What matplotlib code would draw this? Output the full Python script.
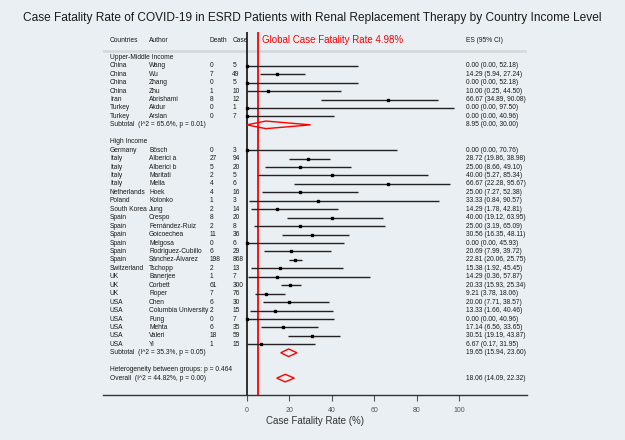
import matplotlib.pyplot as plt
from matplotlib.patches import Polygon

plt.rcParams['font.family'] = ['Liberation Sans', 'DejaVu Sans']

# study level data
um_country = ["China", "China", "China", "China", "Iran", "Turkey", "Turkey"]
um_author = ["Wang", "Wu", "Zhang", "Zhu", "Abrishami", "Akdur", "Arslan"]
um_death = [0, 7, 0, 1, 8, 0, 0]
um_case = [5, 49, 5, 10, 12, 1, 7]
um_es = [0.00, 14.29, 0.00, 10.00, 66.67, 0.00, 0.00]
um_lo = [0.00, 5.94, 0.00, 0.25, 34.89, 0.00, 0.00]
um_hi = [52.18, 27.24, 52.18, 44.50, 90.08, 97.50, 40.96]

hi_country = ["Germany", "Italy", "Italy", "Italy", "Italy", "Netherlands", "Poland",
              "South Korea", "Spain", "Spain", "Spain", "Spain", "Spain", "Spain",
              "Switzerland", "UK", "UK", "UK", "USA", "USA", "USA", "USA", "USA", "USA"]
hi_author = ["Bösch", "Alberici a", "Alberici b", "Maritati", "Mella", "Hoek", "Kolonko",
             "Jung", "Crespo", "Fernández-Ruiz", "Goicoechea", "Melgosa",
             "Rodriguez-Cubillo", "Sánchez-Álvarez", "Tschopp", "Banerjee", "Corbett",
             "Roper", "Chen", "Columbia University", "Fung", "Mehta", "Valeri", "Yi"]
hi_death = [0, 27, 5, 2, 4, 4, 1, 2, 8, 2, 11, 0, 6, 198, 2, 1, 61, 7, 6, 2, 0, 6, 18, 1]
hi_case = [3, 94, 20, 5, 6, 16, 3, 14, 20, 8, 36, 6, 29, 868, 13, 7, 300, 76, 30, 15, 7, 35, 59, 15]
hi_es = [0.00, 28.72, 25.00, 40.00, 66.67, 25.00, 33.33, 14.29, 40.00, 25.00, 30.56, 0.00,
         20.69, 22.81, 15.38, 14.29, 20.33, 9.21, 20.00, 13.33, 0.00, 17.14, 30.51, 6.67]
hi_lo = [0.00, 19.86, 8.66, 5.27, 22.28, 7.27, 0.84, 1.78, 19.12, 3.19, 16.35, 0.00,
         7.99, 20.06, 1.92, 0.36, 15.93, 3.78, 7.71, 1.66, 0.00, 6.56, 19.19, 0.17]
hi_hi = [70.76, 38.98, 49.10, 85.34, 95.67, 52.38, 90.57, 42.81, 63.95, 65.09, 48.11, 45.93,
         39.72, 25.75, 45.45, 57.87, 25.34, 18.06, 38.57, 40.46, 40.96, 33.65, 43.87, 31.95]

# pooled estimates
pooled_labels = ["Subtotal  (I^2 = 65.6%, p = 0.01)", "Subtotal  (I^2 = 35.3%, p = 0.05)",
                 "Overall  (I^2 = 44.82%, p = 0.00)"]
pooled_es = [8.95, 19.65, 18.06]
pooled_lo = [0.00, 15.94, 14.09]
pooled_hi = [30.00, 23.60, 22.32]

global_cfr = 4.98

bg = "#e9eff2"
txt = "#1a1a1a"
fs = 4.8

fig = plt.figure(figsize=(6.25, 4.4), dpi=100, facecolor=bg)
ax = fig.add_axes([0.1648, 0.1023, 0.6784, 0.825], facecolor=bg)
ax.set_xlim(-67.9, 132.1)
ax.set_ylim(42, -1)

# column x positions (data units)
xc, xa, xd, xn, xe = -64.6, -46.2, -17.6, -6.9, 103.4


def row_text(k, country, author, death, case, es, lo, hi):
    ax.text(xc, k, country, fontsize=fs, color=txt, va="center")
    ax.text(xa, k, author, fontsize=fs, color=txt, va="center")
    ax.text(xd, k, str(death), fontsize=fs, color=txt, va="center")
    ax.text(xn, k, str(case), fontsize=fs, color=txt, va="center")
    ax.text(xe, k, f"{es:.2f} ({lo:.2f}, {hi:.2f})", fontsize=fs, color=txt, va="center")
    ax.plot([lo, hi], [k, k], color="#222222", lw=1.0, solid_capstyle="butt", zorder=3)
    ax.plot([es], [k], marker="s", color="black", markersize=1.6, zorder=4)


def diamond(k, es, lo, hi):
    h = 0.45
    ax.add_patch(Polygon([[lo, k], [es, k - h], [hi, k], [es, k + h]], closed=True,
                         fill=False, edgecolor="red", lw=1.0, zorder=4))


# header
for x, s in zip([xc, xa, xd, xn, xe], ["Countries", "Author", "Death", "Case", "ES (95% CI)"]):
    ax.text(x, 0, s, fontsize=fs, color=txt, va="center")
ax.axhline(1.3, color="#d3d8db", lw=1.8, zorder=1)

ax.text(xc, 2, "Upper-Middle Income", fontsize=fs, color=txt, va="center")
k = 3
for i in range(len(um_author)):
    row_text(k, um_country[i], um_author[i], um_death[i], um_case[i], um_es[i], um_lo[i], um_hi[i])
    k += 1
ax.text(xc, k, pooled_labels[0], fontsize=fs, color=txt, va="center")
ax.text(xe, k, f"{pooled_es[0]:.2f} ({pooled_lo[0]:.2f}, {pooled_hi[0]:.2f})", fontsize=fs, color=txt, va="center")
diamond(k, pooled_es[0], pooled_lo[0], pooled_hi[0])

ax.text(xc, 12, "High Income", fontsize=fs, color=txt, va="center")
k = 13
for i in range(len(hi_author)):
    row_text(k, hi_country[i], hi_author[i], hi_death[i], hi_case[i], hi_es[i], hi_lo[i], hi_hi[i])
    k += 1
ax.text(xc, k, pooled_labels[1], fontsize=fs, color=txt, va="center")
ax.text(xe, k, f"{pooled_es[1]:.2f} ({pooled_lo[1]:.2f}, {pooled_hi[1]:.2f})", fontsize=fs, color=txt, va="center")
diamond(k, pooled_es[1], pooled_lo[1], pooled_hi[1])

ax.text(xc, 39, "Heterogeneity between groups: p = 0.464", fontsize=fs, color=txt, va="center")
ax.text(xc, 40, pooled_labels[2], fontsize=fs, color=txt, va="center")
ax.text(xe, 40, f"{pooled_es[2]:.2f} ({pooled_lo[2]:.2f}, {pooled_hi[2]:.2f})", fontsize=fs, color=txt, va="center")
diamond(40, pooled_es[2], pooled_lo[2], pooled_hi[2])

# reference lines
ax.axvline(0, color="#222222", lw=1.3, zorder=2)
ax.axvline(global_cfr, color="red", lw=1.3, zorder=2)
ax.text(7.1, 0, f"Global Case Fatality Rate {global_cfr}%", fontsize=7, color="red", va="center")

# axes styling
for s in ["top", "left", "right"]:
    ax.spines[s].set_visible(False)
ax.spines["bottom"].set_color("#333333")
ax.spines["bottom"].set_linewidth(1.0)
ax.set_yticks([])
ax.set_xticks([0, 20, 40, 60, 80, 100])
ax.tick_params(axis="x", labelsize=5, colors="#555555", length=4, pad=5)
ax.set_xlabel("Case Fatality Rate (%)", fontsize=7, color="#333333", labelpad=1)

fig.text(0.5, 0.958, "Case Fatality Rate of COVID-19 in ESRD Patients with Renal Replacement Therapy by Country Income Level",
         ha="center", va="center", fontsize=8.6, color=txt)

fig.savefig("out.png", dpi=100, facecolor=bg)
